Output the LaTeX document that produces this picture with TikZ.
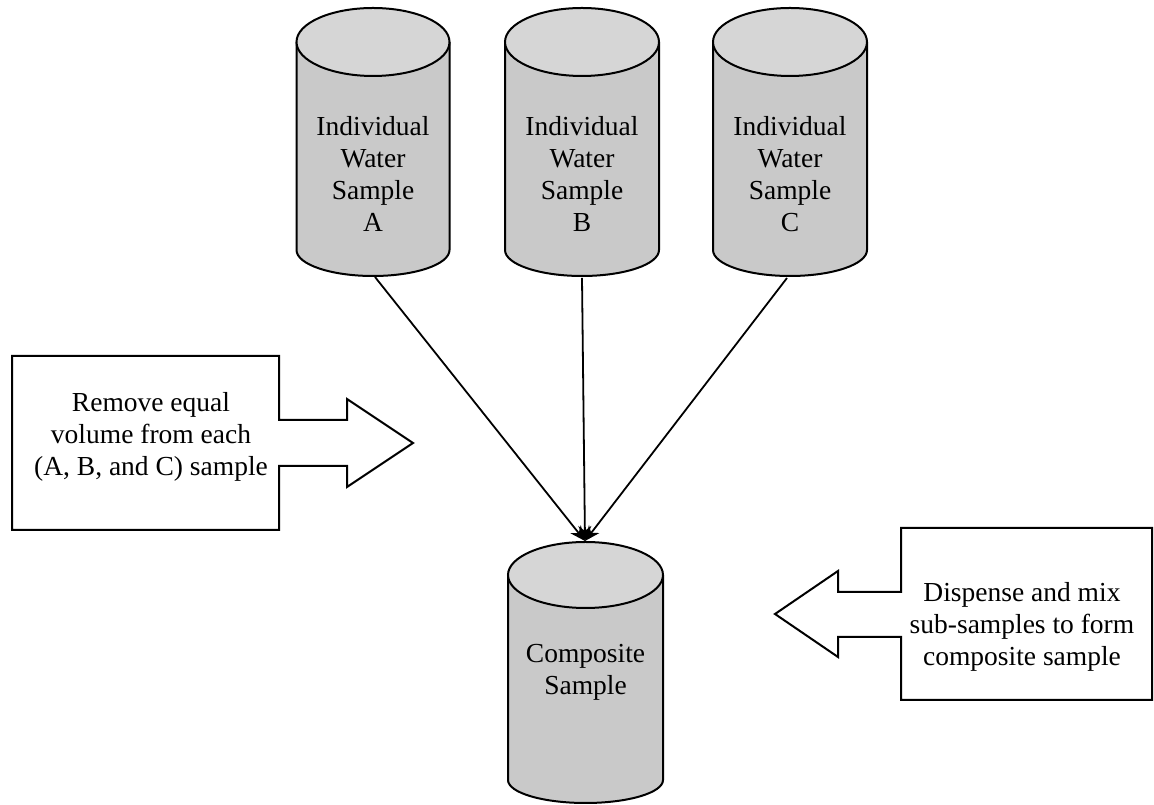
\documentclass[tikz,border=0pt]{standalone}
\usepackage{fontspec}
\setmainfont{Liberation Serif}
\usetikzlibrary{arrows.meta}
\tikzset{
  lbl/.style={align=center, inner sep=0pt, font=\fontsize{27.5}{32}\selectfont},
  outl/.style={line width=2pt, line join=miter},
  conn/.style={line width=1.8pt, -{Stealth[length=15pt,width=13pt]}},
  bodyfill/.style={fill=gray!42},
  topfill/.style={fill=gray!32}
}
\newcommand{\mycyl}[7]{% name, cx, topY, botY, rx, ry, ryb
  \path[bodyfill] (#2-#5,#3) -- (#2-#5,#4) arc[start angle=180,end angle=360,x radius=#5,y radius=#7] -- (#2+#5,#3) -- cycle;
  \draw[outl] (#2-#5,#3) -- (#2-#5,#4) arc[start angle=180,end angle=360,x radius=#5,y radius=#7] -- (#2+#5,#3);
  \draw[outl,topfill] (#2,#3) ellipse[x radius=#5,y radius=#6];
  \coordinate (#1-top) at (#2,#3+#6);
  \coordinate (#1-bot) at (#2,#4-#7);
}
\begin{document}
\begin{tikzpicture}[x=1pt,y=1pt]
\useasboundingbox (0,0) rectangle (1154,805);
\mycyl{A}{373}{763}{555}{76.5}{34}{26}
\mycyl{B}{582}{763}{555}{77}{34}{26}
\mycyl{C}{790}{763}{555}{77}{34}{26}
\mycyl{D}{585.5}{230}{25}{77.5}{33}{23}
\node[lbl] (tA) at (373,631) {Individual\\Water\\Sample\\A};
\node[lbl] (tB) at (582,631) {Individual\\Water\\Sample\\B};
\node[lbl] (tC) at (790,631) {Individual\\Water\\Sample\\C};
\node[lbl] (tD) at (585.5,133) {Composite\\Sample};
\coordinate (sA) at (375,528);
\coordinate (sB) at (582,527);
\coordinate (sC) at (787,527);
\coordinate (tip) at (585,264);
\draw[conn] (sA) -- (tip);
\draw[conn] (sB) -- (tip);
\draw[conn] (sC) -- (tip);
% left callout
\draw[outl,fill=white] (12,449) -- (279,449) -- (279,385) -- (347,385) -- (347,406) -- (413,362) -- (347,318) -- (347,339) -- (279,339) -- (279,275) -- (12,275) -- cycle;
\node[lbl] (L) at (151,368) {Remove equal\\volume from each\\(A, B, and C) sample};
% right callout
\draw[outl,fill=white] (1152,277) -- (901,277) -- (901,213) -- (838,213) -- (838,234) -- (775,191) -- (838,148) -- (838,168) -- (901,168) -- (901,105) -- (1152,105) -- cycle;
\node[lbl] (R) at (1022,178) {Dispense and mix\\sub-samples to form\\composite sample};
\end{tikzpicture}
\end{document}
